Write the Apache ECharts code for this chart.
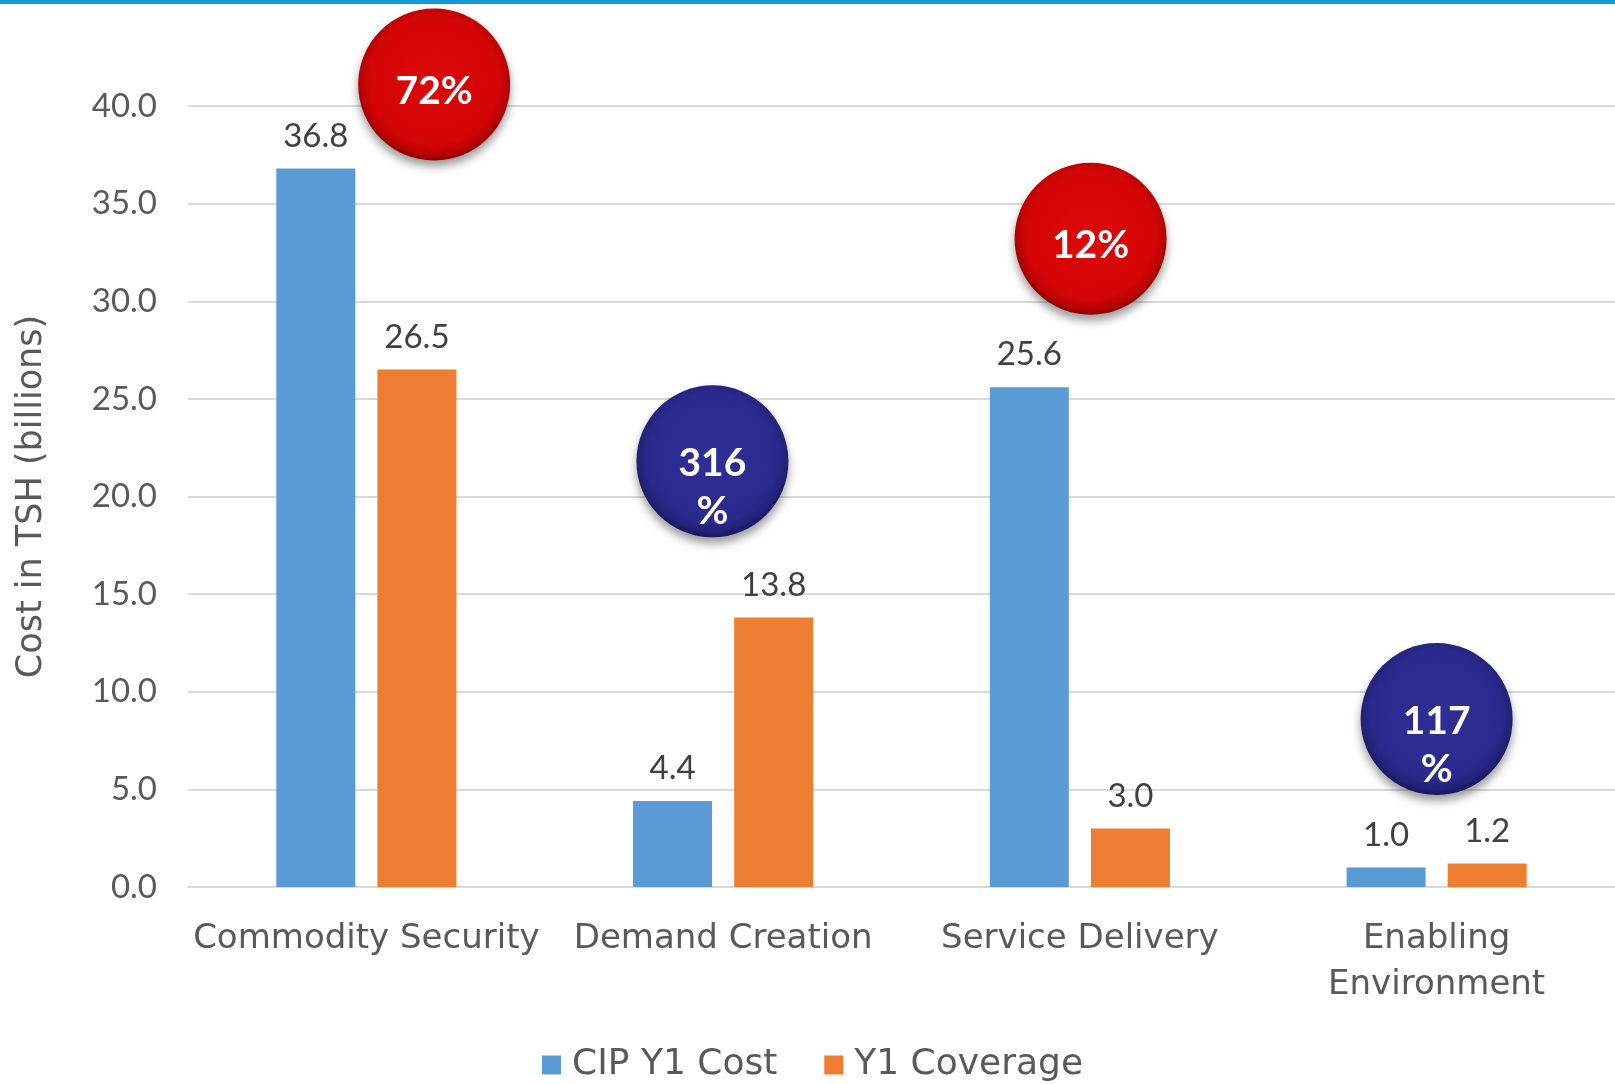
<!DOCTYPE html>
<html>
<head>
<meta charset="utf-8">
<script src="https://cdn.jsdelivr.net/npm/echarts@6/dist/echarts.min.js"></script>
<style>
  html, body { margin: 0; padding: 0; background: #ffffff; }
  #chart { width: 1615px; height: 1084px; }
</style>
</head>
<body>
<div id="chart"></div>
<script>
// ---- data ----
const categories = ['Commodity Security', 'Demand Creation', 'Service Delivery', 'Enabling\nEnvironment'];
const seriesNames = ['CIP Y1 Cost', 'Y1 Coverage'];
const cipY1Cost = [36.8, 4.4, 25.6, 1.0];
const y1Coverage = [26.5, 13.8, 3.0, 1.2];
const yMin = 0, yMax = 40, yStep = 5;
// coverage bubbles (data-space anchor: category-unit x, value y)
const bubbleLabels = ['72%', '316\n%', '12%', '117\n%'];
const bubbleX = [0.69, 1.47, 2.53, 3.50];
const bubbleY = [41.1, 21.8, 33.2, 8.6];
const bubbleTone = ['red', 'blue', 'red', 'blue'];

// ---- styles ----
const TEXT_FONT = 'DejaVu Sans';
const NUM_FONT = 'Lato';
const GRID_COLOR = '#D9D9D9';
const AXIS_TEXT = '#595959';
const LABEL_TEXT = '#404040';

function glossy(tone) {
  const stops = tone === 'red'
    ? ['#DC0808', '#D40505', '#B80202', '#8C0000']
    : ['#2E2E96', '#2A2A8E', '#222278', '#16165C'];
  return new echarts.graphic.RadialGradient(0.5, 0.47, 0.53, [
    { offset: 0, color: stops[0] },
    { offset: 0.8, color: stops[1] },
    { offset: 0.92, color: stops[2] },
    { offset: 1, color: stops[3] }
  ]);
}

const chart = echarts.init(document.getElementById('chart'), null, { renderer: 'canvas' });

const barLabel = {
  show: true,
  position: 'top',
  distance: 16,
  fontFamily: NUM_FONT,
  fontSize: 33,
  lineHeight: 33,
  color: LABEL_TEXT,
  formatter: p => p.value.toFixed(1)
};

const bubbleData = bubbleLabels.map((t, i) => ({
  value: [bubbleX[i], bubbleY[i]],
  itemStyle: { color: glossy(bubbleTone[i]) },
  label: {
    formatter: t,
    offset: t.indexOf('\n') >= 0 ? [0, 26] : [0, 7]
  }
}));

chart.setOption({
  animation: false,
  backgroundColor: '#ffffff',
  graphic: [{
    type: 'rect',
    left: 0, top: 0,
    shape: { width: 1615, height: 4 },
    style: { fill: '#1199D8' },
    z: 100
  }],
  grid: { left: 188, right: 0, top: 106, bottom: 197, containLabel: false },
  legend: {
    data: seriesNames,
    left: 537,
    top: 1042,
    icon: 'rect',
    itemWidth: 19,
    itemHeight: 19,
    itemGap: 47,
    textStyle: { fontFamily: TEXT_FONT, fontSize: 36, color: AXIS_TEXT, padding: [0, 0, 0, 6] }
  },
  xAxis: [{
    type: 'category',
    data: categories,
    axisTick: { show: false },
    axisLine: { lineStyle: { color: GRID_COLOR, width: 2 } },
    axisLabel: {
      interval: 0,
      margin: 29,
      fontFamily: TEXT_FONT,
      fontSize: 34,
      lineHeight: 46,
      color: AXIS_TEXT
    }
  }, {
    type: 'value',
    min: 0,
    max: 4,
    show: false
  }],
  yAxis: {
    type: 'value',
    min: yMin,
    max: yMax,
    interval: yStep,
    name: 'Cost in TSH (billions)',
    nameLocation: 'middle',
    nameGap: 139,
    nameRotate: 90,
    nameTextStyle: { fontFamily: TEXT_FONT, fontSize: 35, color: AXIS_TEXT },
    axisLine: { show: false },
    axisTick: { show: false },
    splitLine: { lineStyle: { color: GRID_COLOR, width: 2 } },
    axisLabel: {
      margin: 31,
      fontFamily: NUM_FONT,
      fontSize: 33,
      color: AXIS_TEXT,
      formatter: v => v.toFixed(1)
    }
  },
  series: [{
    name: seriesNames[0],
    type: 'bar',
    data: cipY1Cost,
    barWidth: 79,
    barGap: '28%',
    itemStyle: { color: '#5B9BD5' },
    label: barLabel
  }, {
    name: seriesNames[1],
    type: 'bar',
    data: y1Coverage,
    barWidth: 79,
    barGap: '28%',
    itemStyle: { color: '#ED7D31' },
    label: barLabel
  }, {
    name: 'Coverage ratio',
    type: 'scatter',
    xAxisIndex: 1,
    yAxisIndex: 0,
    clip: false,
    silent: true,
    z: 10,
    symbol: 'circle',
    symbolSize: 152,
    itemStyle: {
      opacity: 1,
      shadowBlur: 10,
      shadowColor: 'rgba(0,0,0,0.4)',
      shadowOffsetY: 6
    },
    label: {
      show: true,
      position: 'inside',
      fontFamily: NUM_FONT,
      fontWeight: 'bold',
      fontSize: 39,
      lineHeight: 48,
      color: '#ffffff',
      opacity: 1
    },
    data: bubbleData
  }]
});
</script>
</body>
</html>
